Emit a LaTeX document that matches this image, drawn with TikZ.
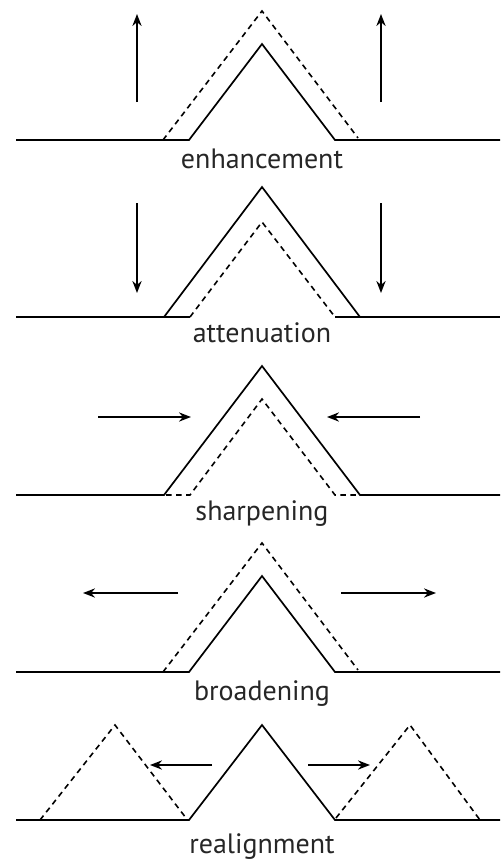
\documentclass[tikz,border=0pt]{standalone}
\usepackage{fontspec}
\setmainfont{PT Sans}
\usetikzlibrary{arrows.meta}
\begin{document}
\begin{tikzpicture}[x=0.5pt,y=-0.5pt,
  line/.style={line width=0.85pt, line join=miter},
  dsh/.style={line width=0.8pt, dash pattern=on 2.8pt off 2.2pt},
  arr/.style={line width=0.85pt, -{Stealth[length=6pt,width=4.6pt]}},
  lbl/.style={font=\fontsize{14}{16}\selectfont, inner sep=0pt, anchor=base, text=black!85}]
\useasboundingbox (0,0) rectangle (500,859);
% ---------- enhancement ----------
\draw[line] (16,140) -- (189,140) -- (262,44) -- (335,140) -- (500,140);
\draw[dsh] (163,140) -- (262,11) -- (358,138);
\coordinate (e1a) at (137,102); \coordinate (e1b) at (137,14);
\coordinate (e2a) at (381,102); \coordinate (e2b) at (381,14);
\draw[arr] (e1a) -- (e1b);
\draw[arr] (e2a) -- (e2b);
\node[lbl] (enh) at (262,168) {enhancement};
% ---------- attenuation ----------
\draw[line] (16,317) -- (190,317);
\draw[line] (335,317) -- (500,317);
\draw[line] (164,317) -- (262,187) -- (360,317);
\draw[dsh] (190,317) -- (262,222) -- (335,317);
\coordinate (a1a) at (137,203); \coordinate (a1b) at (137,293);
\coordinate (a2a) at (381,203); \coordinate (a2b) at (381,293);
\draw[arr] (a1a) -- (a1b);
\draw[arr] (a2a) -- (a2b);
\node[lbl] (att) at (262,342) {attenuation};
% ---------- sharpening ----------
\draw[line] (16,495) -- (164,495) -- (262,366) -- (360,495) -- (500,495);
\draw[dsh] (166,495) -- (190,495) -- (262,399) -- (335,495) -- (358,495);
\coordinate (s1a) at (98,417); \coordinate (s1b) at (191,417);
\coordinate (s2a) at (420,417); \coordinate (s2b) at (327,417);
\draw[arr] (s1a) -- (s1b);
\draw[arr] (s2a) -- (s2b);
\node[lbl] (shp) at (262,520) {sharpening};
% ---------- broadening ----------
\draw[line] (16,672) -- (189,672) -- (262,576) -- (335,672) -- (500,672);
\draw[dsh] (163,672) -- (262,543) -- (358,670);
\coordinate (b1a) at (178,593); \coordinate (b1b) at (83,593);
\coordinate (b2a) at (341,593); \coordinate (b2b) at (436,593);
\draw[arr] (b1a) -- (b1b);
\draw[arr] (b2a) -- (b2b);
\node[lbl] (brd) at (262,700) {broadening};
% ---------- realignment ----------
\draw[line] (16,820) -- (189,820) -- (262,725) -- (335,820) -- (500,820);
\draw[dsh] (40,820) -- (115,725) -- (186,818);
\draw[dsh] (336,818) -- (410,725) -- (480,820);
\coordinate (r1a) at (212,765); \coordinate (r1b) at (150,765);
\coordinate (r2a) at (308,765); \coordinate (r2b) at (370,765);
\draw[arr] (r1a) -- (r1b);
\draw[arr] (r2a) -- (r2b);
\node[lbl] (rea) at (262,853) {realignment};
\end{tikzpicture}
\end{document}
